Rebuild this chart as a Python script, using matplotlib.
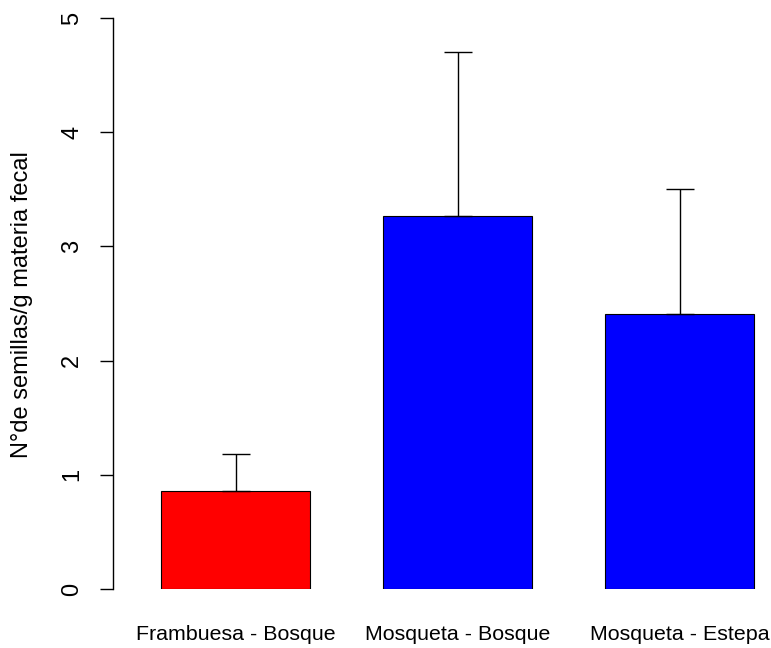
"""Semillas por gramo de materia fecal (barras con error superior)."""

import matplotlib
matplotlib.use("Agg")
import matplotlib.pyplot as plt
import numpy as np

categorias = ["Frambuesa - Bosque", "Mosqueta - Bosque", "Mosqueta - Estepa"]
medias = [0.86, 3.27, 2.41]
limite_sup = [1.18, 4.70, 3.50]
colores = ["#ff0000", "#0000ff", "#0000ff"]
ticks_y = [0, 1, 2, 3, 4, 5]

plt.rcParams["font.family"] = ["Liberation Sans", "DejaVu Sans"]
FS = 17

W, H = 771, 648
fig = plt.figure(figsize=(W / 100, H / 100), dpi=100)
x0, x1 = 113, 761
y0, y1 = 589, 18
ax = fig.add_axes([x0 / W, 1 - y0 / H, (x1 - x0) / W, (y0 - y1) / H])

paso = 222.0
izq = -(235.5 - x0) / paso
ax.set_xlim(izq, izq + (x1 - x0) / paso)
ax.set_ylim(0, 5)

pos = np.arange(len(categorias))
ax.bar(pos, medias, width=0.67, color=colores, edgecolor="black", linewidth=0.8)
err = np.array(limite_sup) - np.array(medias)
ax.errorbar(pos, medias, yerr=[np.zeros(len(pos)), err], fmt="none",
            ecolor="black", elinewidth=1.0, capsize=10, capthick=1.0)

for s in ["top", "right", "bottom"]:
    ax.spines[s].set_visible(False)
ax.spines["left"].set_linewidth(1.0)
ax.spines["left"].set_bounds(0, 5)

ax.set_yticks(ticks_y)
ax.set_yticklabels([str(t) for t in ticks_y], rotation=90, va="center", fontsize=FS)
ax.tick_params(axis="y", length=9.5, width=1.0, pad=12)
ax.set_xticks(pos)
ax.set_xticklabels(categorias, fontsize=15.4)
ax.tick_params(axis="x", length=0, pad=26)

fig.text(22 / W, 1 - 305 / H, "N°de semillas/g materia fecal", rotation=90,
         ha="center", va="center", fontsize=FS)

fig.savefig("out.png", dpi=100)
